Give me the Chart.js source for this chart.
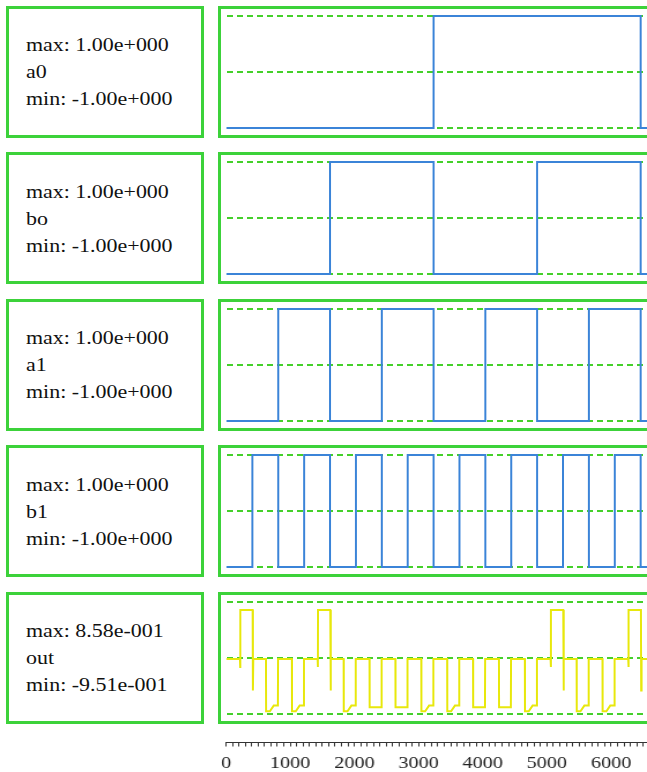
<!DOCTYPE html>
<html>
<head>
<meta charset="utf-8">
<script src="https://cdn.jsdelivr.net/npm/chart.js@4/dist/chart.umd.min.js"></script>
<style>
  html, body { margin: 0; padding: 0; background: #fff; width: 647px; height: 772px; overflow: hidden; }
  #stage { position: relative; width: 647px; height: 772px; overflow: hidden; }
  .tag {
    position: absolute; left: 6px; width: 198px; height: 132px; box-sizing: border-box;
    border: 3px solid #3cd23a; display: flex; flex-direction: column; justify-content: center;
    padding-left: 17px;
    font-family: 'Liberation Serif', 'Times New Roman', serif; font-size: 19px; line-height: 27px; color: #111;
  }
  .tag span { display: block; transform: scaleX(1.155); transform-origin: 0 50%; white-space: nowrap; }
  .plot { position: absolute; left: 217.5px; width: 470px; height: 132px; }
  #axisBox { position: absolute; left: 200px; top: 713px; width: 435px; height: 59px; transform: scaleX(1.155); transform-origin: 0 0; }
</style>
</head>
<body>
<div id="stage"></div>
<script>
// Signal names and the extreme values printed in each label box
const names = ['a0', 'bo', 'a1', 'b1', 'out'];
const maxLabels = ['1.00e+000', '1.00e+000', '1.00e+000', '1.00e+000', '8.58e-001'];
const minLabels = ['-1.00e+000', '-1.00e+000', '-1.00e+000', '-1.00e+000', '-9.51e-001'];

// Digital inputs: level switches at each listed time (held until the next time)
const a0Times  = [0, 3200, 6400, 7000];
const a0Levels = [-1, 1, -1, -1];
const b0Times  = [0, 1600, 3200, 4800, 6400, 7000];
const b0Levels = [-1, 1, -1, 1, -1, -1];
const a1Times  = [0, 800, 1600, 2400, 3200, 4000, 4800, 5600, 6400, 7000];
const a1Levels = [-1, 1, -1, 1, -1, 1, -1, 1, -1, -1];
const b1Times  = [0, 400, 800, 1200, 1600, 2000, 2400, 2800, 3200, 3600, 4000, 4400, 4800, 5200, 5600, 6000, 6400, 6800, 7000];
const b1Levels = [-1, 1, -1, 1, -1, 1, -1, 1, -1, 1, -1, 1, -1, 1, -1, 1, -1, 1, 1];

// Comparator output trace
const outTimes = [
  0,
  208, 212, 214, 404, 408, 414,
  610, 612, 670, 730, 794, 797,
  1010, 1012, 1070, 1130, 1194, 1197,
  1408, 1412, 1414, 1604, 1608, 1614,
  1810, 1812, 1870, 1930, 1994, 1997,
  2210, 2212, 2394, 2397,
  2610, 2612, 2794, 2797,
  3010, 3012, 3070, 3130, 3194, 3197,
  3410, 3412, 3470, 3530, 3594, 3597,
  3810, 3812, 3994, 3997,
  4210, 4212, 4394, 4397,
  4610, 4612, 4670, 4730, 4794, 4797,
  5008, 5012, 5014, 5204, 5208, 5214,
  5410, 5412, 5470, 5530, 5594, 5597,
  5810, 5812, 5870, 5930, 5994, 5997,
  6208, 6212, 6214, 6404, 6408, 6414,
  6608, 6612, 6614, 6804, 6808, 6814,
  7000
];
const outValues = [
  -0.02,
  -0.02, -0.16, 0.858, 0.858, -0.58, -0.02,
  -0.02, -0.951, -0.951, -0.85, -0.85, -0.02,
  -0.02, -0.951, -0.951, -0.85, -0.85, -0.02,
  -0.02, -0.16, 0.858, 0.858, -0.58, -0.02,
  -0.02, -0.951, -0.951, -0.85, -0.85, -0.02,
  -0.02, -0.88, -0.88, -0.02,
  -0.02, -0.88, -0.88, -0.02,
  -0.02, -0.951, -0.951, -0.85, -0.85, -0.02,
  -0.02, -0.951, -0.951, -0.85, -0.85, -0.02,
  -0.02, -0.88, -0.88, -0.02,
  -0.02, -0.88, -0.88, -0.02,
  -0.02, -0.951, -0.951, -0.85, -0.85, -0.02,
  -0.02, -0.16, 0.858, 0.858, -0.58, -0.02,
  -0.02, -0.951, -0.951, -0.85, -0.85, -0.02,
  -0.02, -0.951, -0.951, -0.85, -0.85, -0.02,
  -0.02, -0.16, 0.858, 0.858, -0.58, -0.02,
  -0.02, -0.16, 0.858, 0.858, -0.58, -0.02,
  -0.02
];

// Time axis
const timeMin = 0;
const timeMax = 7000;
const timeLabels = [0, 1000, 2000, 3000, 4000, 5000, 6000, 7000];
const refLevels = [-1, 0, 1];

const traces = [
  { times: a0Times, values: a0Levels, stepped: true, color: '#3b84d8' },
  { times: b0Times, values: b0Levels, stepped: true, color: '#3b84d8' },
  { times: a1Times, values: a1Levels, stepped: true, color: '#3b84d8' },
  { times: b1Times, values: b1Levels, stepped: true, color: '#3b84d8' },
  { times: outTimes, values: outValues, stepped: false, color: '#e8e80c' }
];

const GREEN = '#3cd23a';
const DASH_GREEN = '#45d02b';

// Draws the outer green frame of a plot panel
const framePlugin = {
  id: 'frame',
  afterDraw(chart) {
    const ctx = chart.ctx;
    ctx.save();
    ctx.strokeStyle = GREEN;
    ctx.lineWidth = 3;
    ctx.strokeRect(1.5, 1.5, chart.width - 3, chart.height - 3);
    ctx.restore();
  }
};

const stage = document.getElementById('stage');

traces.forEach((tr, i) => {
  const top = 7.3 + 146.5 * i;

  const tag = document.createElement('div');
  tag.className = 'tag';
  tag.style.top = (top - 1.5) + 'px';
  [ 'max: ' + maxLabels[i], names[i], 'min: ' + minLabels[i] ].forEach(t => {
    const s = document.createElement('span');
    s.textContent = t;
    tag.appendChild(s);
  });
  stage.appendChild(tag);

  const box = document.createElement('div');
  box.className = 'plot';
  box.style.top = (top - 1.5) + 'px';
  const cv = document.createElement('canvas');
  cv.width = 470; cv.height = 132;
  box.appendChild(cv);
  stage.appendChild(box);

  new Chart(cv, {
    type: 'line',
    data: {
      datasets: [{
        data: tr.times.map((t, j) => ({ x: t, y: tr.values[j] })),
        borderColor: tr.color,
        borderWidth: 2,
        pointRadius: 0,
        stepped: tr.stepped,
        tension: 0,
        clip: 5
      }]
    },
    options: {
      responsive: false,
      animation: false,
      events: [],
      layout: { padding: { left: 8.5, right: 8.5, top: 10, bottom: 10 } },
      plugins: { legend: { display: false }, tooltip: { enabled: false } },
      scales: {
        x: { type: 'linear', min: timeMin, max: timeMax, display: false },
        y: {
          type: 'linear', min: -1, max: 1,
          afterBuildTicks: s => { s.ticks = refLevels.map(v => ({ value: v })); },
          afterFit: s => { s.width = 0; },
          ticks: { display: false },
          grid: { color: DASH_GREEN, lineWidth: 2, drawTicks: false },
          border: { display: false, dash: [6, 4] }
        }
      }
    },
    plugins: [framePlugin]
  });
});

// Shared time axis under the panels
const axisBox = document.createElement('div');
axisBox.id = 'axisBox';
const acv = document.createElement('canvas');
acv.width = 435; acv.height = 59;
axisBox.appendChild(acv);
stage.appendChild(axisBox);

new Chart(acv, {
  type: 'line',
  data: { datasets: [] },
  options: {
    responsive: false,
    animation: false,
    events: [],
    layout: { padding: { left: 22.5, right: 20.3, top: 0, bottom: 0 } },
    plugins: { legend: { display: false }, tooltip: { enabled: false } },
    scales: {
      x: {
        type: 'linear', position: 'bottom', min: timeMin, max: timeMax,
        ticks: {
          stepSize: 100, autoSkip: false, maxRotation: 0, minRotation: 0, padding: 6,
          color: '#222',
          font: { family: "'Liberation Serif', 'Times New Roman', serif", size: 17.5 },
          callback: v => (timeLabels.includes(v) ? String(v) : '')
        },
        grid: { drawOnChartArea: false, drawTicks: true, tickLength: 4, color: '#333', lineWidth: 1 },
        border: { display: true, color: '#333', width: 1 }
      },
      y: { display: false, min: -1, max: 1 }
    }
  }
});
</script>
</body>
</html>
